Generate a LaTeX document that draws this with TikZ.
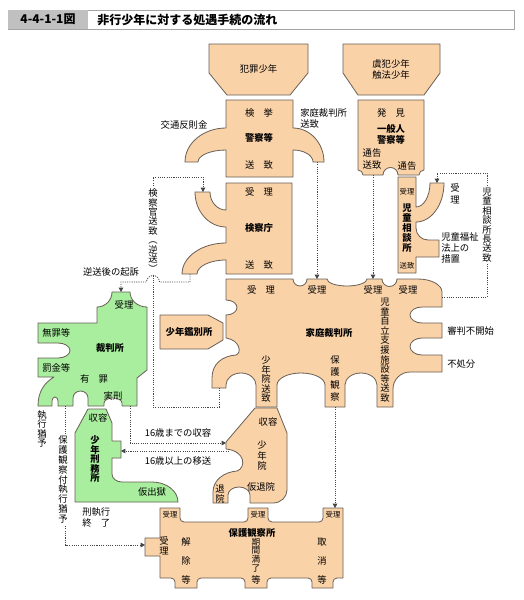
\documentclass[tikz,border=0pt]{standalone}
\usepackage{fontspec}
\setmainfont{Noto Sans CJK JP}
\usetikzlibrary{arrows.meta}
\definecolor{peach}{RGB}{250,210,168}
\definecolor{lgreen}{RGB}{168,238,158}
\definecolor{edge}{RGB}{105,95,85}
\definecolor{dotc}{RGB}{70,70,70}
\definecolor{hdrgray}{RGB}{192,192,192}
\definecolor{hdrline}{RGB}{165,165,165}
\newcommand\fR{\fontsize{7}{8.4}\selectfont}
\newcommand\fB{\fontsize{7}{8.4}\selectfont\bfseries}
\newcommand\fS{\fontsize{5.5}{6.5}\selectfont}
\newcommand\fV[1]{\fontsize{7}{#1}\selectfont}
\newcommand\fVB[1]{\fontsize{7}{#1}\selectfont\bfseries}
\lineskiplimit=-20pt
\begin{document}
\begin{tikzpicture}[x=0.75pt,y=-0.75pt,
  shp/.style={fill=peach,draw=edge,line width=0.6pt,line join=round},
  gshp/.style={fill=lgreen,draw=edge,line width=0.6pt,line join=round},
  lbl/.style={inner sep=0pt,font=\fR},
  blbl/.style={inner sep=0pt,font=\fB},
  slbl/.style={inner sep=0pt,font=\fS},
  vlbl/.style={inner sep=0pt,align=center},
  dl/.style={draw=dotc,line width=0.6pt,dash pattern=on 0.8pt off 0.9pt},
  arr/.style={-{Triangle[length=3.2pt,width=3.4pt]}}]
\useasboundingbox (0,0) rectangle (524,600);
\fill[white] (0,0) rectangle (524,600);
% header
\path[fill=white,draw=hdrline,line width=0.6pt] (8,10) rectangle (514,29);
\path[fill=hdrgray] (8.3,10.3) rectangle (88,28.7);
\node (hd1) [inner sep=0pt,font=\fontsize{9}{10}\selectfont\bfseries] at (48,19.5) {4-4-1-1図};
\node (hd2) [inner sep=0pt,anchor=west,font=\fontsize{9}{10}\selectfont\bfseries] at (97,19.5) {非行少年に対する処遇手続の流れ};

% 犯罪少年
\path[shp] (209,44) -- (308,44) -- (308,73) -- (290,95) -- (227,95) -- (209,73) -- cycle;
% 虞犯少年
\path[shp] (343,44) -- (440,44) -- (440,73) -- (424,95) -- (358,95) -- (343,73) -- cycle;
% 警察等
\path[shp] (226,100) -- (293,100) -- (293,128)
  arc[start angle=270,end angle=360,x radius=31,y radius=34] -- (313,162)
  arc[start angle=0,end angle=-90,x radius=20,y radius=12] -- (293,177) -- (226,177) -- (226,150)
  arc[start angle=270,end angle=180,x radius=28,y radius=12] -- (185,162)
  arc[start angle=180,end angle=270,x radius=41,y radius=34] -- cycle;
% 一般人
\path[shp] (358,100) -- (424,100) -- (424,170)
  arc[start angle=270,end angle=180,radius=5] -- (398,175)
  arc[start angle=0,end angle=-180,radius=7.5] -- (363,175)
  arc[start angle=0,end angle=-90,radius=5] -- cycle;
% 児童相談所
\path[shp] (398,177) -- (416,177) -- (416,207)
  arc[start angle=90,end angle=0,x radius=14,y radius=24] -- (444,183)
  arc[start angle=0,end angle=90,x radius=28,y radius=39] -- (416,228)
  arc[start angle=180,end angle=90,radius=12] -- (439,240) -- (439,257) -- (416,257) -- (416,273) -- (398,273) -- cycle;
% 検察庁
\path[shp] (226,183) -- (292,183) -- (292,274) -- (226,274) -- (226,260)
  arc[start angle=270,end angle=180,x radius=29,y radius=14] -- (182,274)
  arc[start angle=180,end angle=270,x radius=44,y radius=31] -- (226,227)
  arc[start angle=90,end angle=180,x radius=31,y radius=35] -- (210,192)
  arc[start angle=180,end angle=90,x radius=16,y radius=18] -- cycle;
% 家庭裁判所
\path[shp] (226,279) -- (293,279)
  arc[start angle=180,end angle=0,radius=7] -- (327,279)
  arc[start angle=180,end angle=0,x radius=20,y radius=7] -- (382,279)
  arc[start angle=180,end angle=0,radius=7.5] -- (418,279)
  arc[start angle=270,end angle=360,x radius=24,y radius=13] -- (442,307) -- (422,307)
  arc[start angle=270,end angle=90,x radius=12,y radius=8] -- (442,323) -- (442,338) -- (422,338)
  arc[start angle=270,end angle=90,x radius=12,y radius=8.5] -- (442,355) -- (442,372) -- (410,372)
  arc[start angle=270,end angle=180,radius=17] -- (393,407) -- (377,407) -- (377,385)
  arc[start angle=360,end angle=180,x radius=16,y radius=12] -- (345,407) -- (325,407) -- (325,385)
  arc[start angle=360,end angle=180,x radius=24,y radius=12] -- (277,407) -- (256,407) -- (256,385)
  arc[start angle=360,end angle=180,x radius=15,y radius=12] -- (226,388) -- (212,388) -- (212,378)
  .. controls (212,364) and (222,356) .. (236,355)
  .. controls (242,353) and (240,340) .. (226,338) -- (226,315)
  arc[start angle=90,end angle=-90,x radius=11,y radius=7.5] -- cycle;
% 少年鑑別所
\path[shp] (160,315) -- (208,315) -- (223,323) -- (223,340) -- (208,349) -- (160,349) -- cycle;
% 裁判所 (green)
\path[gshp] (112,292) -- (130,292)
  arc[start angle=180,end angle=90,x radius=17,y radius=15] -- (147,370) -- (137,378) -- (137,406) -- (122,406) -- (122,403)
  arc[start angle=0,end angle=-180,x radius=9,y radius=5] -- (104,406) -- (88,406) -- (88,398)
  arc[start angle=0,end angle=-180,x radius=7.5,y radius=7] -- (73,406) -- (58,406) -- (58,401)
  arc[start angle=0,end angle=-180,x radius=3,y radius=4] -- (52,406) -- (38,406)
  .. controls (38,392) and (44,383) .. (54,377) -- (38,377) -- (38,358) -- (58,358)
  arc[start angle=90,end angle=-90,x radius=12,y radius=7.5] -- (38,343) -- (38,323) -- (97,323) -- (97,307)
  arc[start angle=90,end angle=0,radius=15] -- cycle;
% 少年刑務所 (green)
\path[gshp] (88,409) -- (106,409) -- (112,423) -- (112,441) -- (121,441) -- (121,458) -- (112,458) -- (112,474)
  arc[start angle=180,end angle=90,x radius=10,y radius=8] -- (152,482)
  arc[start angle=270,end angle=360,x radius=26,y radius=20] -- (75,502) -- (75,433) -- cycle;
% 少年院
\path[shp] (255,408) -- (277,408) -- (287,433) -- (287,490)
  arc[start angle=0,end angle=90,x radius=14,y radius=13] -- (250,503) -- (250,495)
  arc[start angle=0,end angle=-180,x radius=11,y radius=8] -- (228,503) -- (213,503) -- (213,492)
  .. controls (213,480) and (224,472) .. (237,471)
  .. controls (246,468) and (246,451) .. (226,449) -- (226,442) -- cycle;
% 保護観察所
\path[shp] (160,508) -- (180,508) -- (180,518)
  arc[start angle=180,end angle=90,radius=4] -- (244,522)
  arc[start angle=90,end angle=0,radius=4] -- (248,508) -- (268,508) -- (268,518)
  arc[start angle=180,end angle=90,radius=4] -- (319,522)
  arc[start angle=90,end angle=0,radius=4] -- (323,508) -- (343,508) -- (343,578) -- (337,578)
  arc[start angle=270,end angle=180,radius=4] -- (333,588) -- (312,588) -- (312,582)
  arc[start angle=0,end angle=-90,radius=4] -- (271,578)
  arc[start angle=270,end angle=180,radius=4] -- (267,588) -- (245,588) -- (245,582)
  arc[start angle=0,end angle=-90,radius=4] -- (201,578)
  arc[start angle=270,end angle=180,radius=4] -- (197,588) -- (175,588) -- (175,582)
  arc[start angle=0,end angle=-90,radius=4] -- (160,578) -- (160,556) -- (145,556) -- (145,538) -- (160,538) -- cycle;

% connectors
\coordinate (psArm) at (317,162);
\coordinate (kjIn1) at (317,279);
\draw[dl,arr] (psArm) -- (kjIn1);
\coordinate (ipOut) at (373,175);
\coordinate (kjIn3) at (373,279);
\draw[dl,arr] (ipOut) -- (kjIn3);
\coordinate (kjRight) at (442,297);
\coordinate (jsCorner) at (487,173);
\coordinate (jsArm) at (437,183);
\draw[dl,arr] (kjRight) -| (jsCorner) -| (jsArm);
\coordinate (kjFoot) at (219,388);
\coordinate (gyB) at (153,407);
\coordinate (gyT) at (153,177);
\coordinate (ksArmU) at (203,192);
\draw[dl,arr] (kjFoot) |- (gyB) -- (gyT) -| (ksArmU);
\coordinate (ksArmL) at (190,274);
\coordinate (gTop) at (121,292);
\draw[dl,arr] (ksArmL) |- (159.5,282) arc[start angle=0,end angle=-180,radius=6.5] -| (gTop);
\coordinate (gRight) at (130,406);
\coordinate (shIn) at (226,443);
\draw[dl,arr] (gRight) |- (shIn);
\coordinate (shOut) at (229,451);
\coordinate (kmIn) at (121,451);
\draw[dl,arr] (shOut) -- (kmIn);
\coordinate (gLeg) at (65.5,406);
\coordinate (hkIn) at (145,545);
\draw[dl,arr] (gLeg) |- (hkIn);
\coordinate (kjHogo) at (335,407);
\coordinate (hkTop) at (335,508);
\draw[dl,arr] (kjHogo) -- (hkTop);

% texts
\node (t1) [lbl] at (258.5,69) {犯罪少年};
\node (t2) [lbl,align=center,font=\fV{8.2}] at (391,69.5) {虞犯少年\\触法少年};
\node (t3) [lbl] at (259,113) {検　挙};
\node (t4) [blbl] at (259,138) {警察等};
\node (t5) [lbl] at (259,165) {送　致};
\node (t6) [lbl] at (184,125) {交通反則金};
\node (t7) [lbl,align=left,anchor=west,font=\fV{8.2}] at (300,118) {家庭裁判所\\送致};
\node (t8) [lbl] at (391,113) {発　見};
\node (t9) [blbl,align=center,font=\fVB{8.2}] at (391,134) {一般人\\警察等};
\node (t10) [lbl,align=center,font=\fV{8.4}] at (372,159) {通告\\送致};
\node (t11) [lbl] at (407,166) {通告};
\node (t12) [lbl] at (259,192) {受　理};
\node (t13) [blbl] at (259,228) {検察庁};
\node (t14) [lbl] at (259,265) {送　致};
\node (t15) [vlbl,fill=white,inner sep=1pt,font=\fV{7.1}] at (153,230.5) {検\\察\\官\\送\\致\\︵\\逆\\送\\︶};
\node (t16) [slbl] at (407,192) {受理};
\node (t17) [vlbl,font=\fVB{7.5}] at (407,228) {児\\童\\相\\談\\所};
\node (t18) [slbl] at (407,266) {送致};
\node (t19) [vlbl,font=\fV{9}] at (455,194) {受\\理};
\node (t20) [lbl,align=left,anchor=north west,font=\fV{8.3}] at (441,232) {児童福祉\\法上の\\措置};
\node (t21) [vlbl,fill=white,inner sep=1pt,font=\fV{7.05}] at (487,225) {児\\童\\相\\談\\所\\長\\送\\致};
\node (t22) [lbl] at (261,290) {受　理};
\node (t23) [lbl] at (317,290) {受理};
\node (t24) [lbl] at (373,290) {受理};
\node (t25) [lbl] at (408,290) {受理};
\node (t26) [blbl] at (329,333) {家庭裁判所};
\node (t27) [vlbl,font=\fV{7.2}] at (385,350) {児\\童\\自\\立\\支\\援\\施\\設\\等\\送\\致};
\node (t28) [vlbl,font=\fV{7.1}] at (266,379) {少\\年\\院\\送\\致};
\node (t29) [vlbl,font=\fV{9.2}] at (335,378.5) {保\\護\\観\\察};
\node (t30) [lbl,anchor=west] at (447,331) {審判不開始};
\node (t31) [lbl,anchor=west] at (447,364) {不処分};
\node (t32) [blbl] at (189,332) {少年鑑別所};
\node (t33) [lbl] at (111,272) {逆送後の起訴};
\node (t34) [lbl] at (124,305) {受理};
\node (t35) [blbl] at (110,348) {裁判所};
\node (t36) [lbl,anchor=west] at (42,333) {無罪等};
\node (t37) [lbl,anchor=west] at (42,368) {罰金等};
\node (t38) [lbl] at (94,379) {有　罪};
\node (t39) [lbl] at (113,396) {実刑};
\node (t40) [vlbl,font=\fV{7.1}] at (42,429) {執\\行\\猶\\予};
\node (t41) [vlbl,fill=white,inner sep=1pt,font=\fV{7.4}] at (63,479.5) {保\\護\\観\\察\\付\\執\\行\\猶\\予};
\node (t42) [lbl,align=left,anchor=west,font=\fV{7.8}] at (82,517.5) {刑執行\\終　了};
\node (t43) [lbl] at (178,433) {16歳までの収容};
\node (t44) [lbl] at (178,461) {16歳以上の移送};
\node (t45) [lbl] at (98,418) {収容};
\node (t46) [vlbl,font=\fVB{7.1}] at (95,459) {少\\年\\刑\\務\\所};
\node (t47) [lbl] at (152,492) {仮出獄};
\node (t48) [lbl] at (268,422) {収容};
\node (t49) [vlbl,font=\fV{7.9}] at (262,455.5) {少\\年\\院};
\node (t50) [vlbl,font=\fV{7.5}] at (220,494) {退\\院};
\node (t51) [lbl] at (261,487) {仮退院};
\node (t52) [slbl] at (170,515) {受理};
\node (t53) [slbl] at (258,515) {受理};
\node (t54) [slbl] at (333,515) {受理};
\node (t55) [blbl] at (252,533) {保護観察所};
\node (t56) [vlbl,font=\fV{7.5}] at (164,546) {受\\理};
\node (t57) [vlbl,font=\fV{14.2}] at (186,561) {解\\除\\等};
\node (t58) [vlbl,font=\fontsize{6.5}{6.4}\selectfont] at (256,555) {期\\間\\満\\了};
\node (t59) [lbl] at (256,580) {等};
\node (t60) [vlbl,font=\fV{14.2}] at (322,561) {取\\消\\等};
\end{tikzpicture}
\end{document}
